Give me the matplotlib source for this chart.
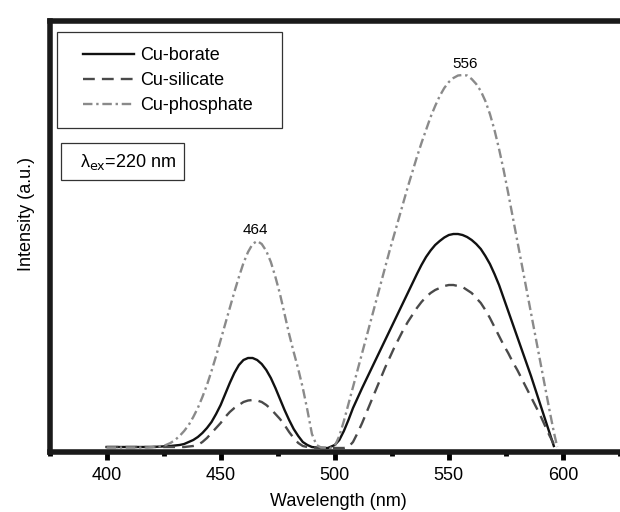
import matplotlib.pyplot as plt
from matplotlib.patches import Rectangle

# (nm, intensywnosc w j.u.)
borate_x = [400, 412, 420, 424, 428, 432, 434, 436, 438, 440, 442, 444, 446, 448, 450, 452, 454, 456, 458,
            460, 462, 464, 466, 468, 470, 472, 474, 476, 478, 480, 482, 484, 486, 488, 490, 492, 494, 497,
            500, 502, 504, 506, 508, 510, 512, 514, 516, 518, 520, 522, 524, 526, 528, 530, 532, 534,
            536, 538, 540, 542, 544, 546, 548, 550, 552, 554, 556, 558, 560, 562, 564, 566, 568, 570, 572,
            574, 576, 578, 580, 582, 584, 586, 588, 590, 592, 594, 596]
borate_y = [1, 1, 1, 1.5, 2, 3, 4, 6, 8, 11, 15, 20, 26, 34, 43, 54, 65, 75, 83,
            88, 90, 90, 88, 84, 78, 70, 60, 49, 38, 28, 19, 12, 6, 3, 1, 0.5, 0, 0,
            3, 8, 17, 28, 40, 50, 60, 69.5, 79, 88.5, 98, 107.5, 117, 126.5, 136, 145.5, 155, 164.5,
            174, 183, 191, 197.5, 203, 207, 210.5, 213, 214, 214, 213, 211, 208, 204, 199, 192, 184, 174, 163,
            150, 137, 124, 111, 98, 85, 72, 58, 44, 30, 16, 2]

silicate_x = [400, 420, 434, 436, 438, 440, 442, 444, 446, 448, 450, 452, 454, 456, 458, 460, 462, 464, 466,
              468, 470, 472, 474, 476, 478, 480, 482, 484, 486, 488, 490, 496, 504, 506, 508, 510, 512, 514,
              516, 518, 520, 522, 524, 526, 528, 530, 532, 534, 536, 538, 540, 542, 544, 546, 548, 550, 552,
              554, 556, 558, 560, 562, 564, 566, 568, 570, 572, 574, 576, 578, 580, 582, 584, 586, 588, 590,
              592, 594, 596]
silicate_y = [1, 1, 1, 1.5, 2, 3, 6, 10, 15, 20, 25, 31, 36, 40, 43, 46, 47.5, 48, 47.5,
              46, 43, 39, 34, 29, 23, 16, 10, 5, 2, 1, 0.5, 0, 0, 1, 6, 15, 25, 36,
              47, 58, 69, 80, 90, 100, 109, 118, 126, 133, 140, 146, 151, 155, 158, 160, 162, 163, 163,
              162, 161, 158, 155, 150, 145, 138, 130, 121, 112, 103, 95, 86, 78, 69, 60, 51, 42, 33,
              23, 13, 4]

phosphate_x = [400, 418, 424, 426, 428, 430, 432, 434, 436, 438, 440, 442, 444, 446, 448, 450, 452, 454, 456,
               458, 460, 462, 464, 466, 468, 470, 472, 474, 476, 478, 480, 482, 484, 486, 488, 490, 492, 494,
               498, 500, 502, 504, 506, 508, 510, 512, 514, 516, 518, 520, 522, 524, 526, 528, 530, 532, 534,
               536, 538, 540, 542, 544, 546, 548, 550, 552, 554, 556, 558, 560, 562, 564, 566, 568, 570, 572,
               574, 576, 578, 580, 582, 584, 586, 588, 590, 592, 594, 596, 597.5]
phosphate_y = [0.5, 0.5, 2, 3, 5, 8, 12, 17, 23, 31, 40, 51, 63, 77, 92, 108, 124, 140, 156,
               171, 185, 196, 204, 207, 204, 197, 186, 171, 154, 134, 114, 96, 79, 60, 38, 14, 3, 0.5,
               0, 2, 12, 27, 44, 61, 78, 95, 112, 129, 146, 163, 180, 197, 213, 229, 245, 261, 276,
               291, 305, 318, 331, 342, 352, 360, 366, 370, 372.5, 373, 372.5, 369, 364, 357, 347, 334, 318, 299,
               278, 255, 231, 207, 183, 159, 135, 111, 87, 63, 39, 16, 1]

labels = ["Cu-borate", "Cu-silicate", "Cu-phosphate"]
peaks = [464, 556]
peak_heights = [207, 373]
xticks = [400, 450, 500, 550, 600]

plt.rcParams['font.family'] = ['Liberation Sans', 'DejaVu Sans']

fig = plt.figure(figsize=(6.2, 5.12), dpi=100)
ax = fig.add_axes([49.5 / 620, 60 / 512, 1 - 49.5 / 620, 431 / 512])

ax.plot(borate_x, borate_y, color="#111111", lw=1.7, label=labels[0])
ax.plot(silicate_x, silicate_y, color="#4a4a4a", lw=1.7, linestyle=(0, (5, 3)), label=labels[1])
ax.plot(phosphate_x, phosphate_y, color="#8a8a8a", lw=1.7, linestyle=(0, (4, 1.6, 1, 1.6)), label=labels[2])

# podpisy pikow
for p, h in zip(peaks, peak_heights):
    ax.text(p + 1, h + 11, str(p), ha="center", va="center", fontsize=11)

ax.set_xlim(375, 620.3)
ax.set_ylim(-4, 427)
ax.set_xticks(xticks)
ax.set_xticks([375, 425, 475, 525, 575, 625], minor=True)
ax.set_yticks([])
ax.tick_params(axis="x", which="major", direction="out", length=6, width=3.5, labelsize=13, pad=5)
ax.tick_params(axis="x", which="minor", direction="out", length=3, width=3.5)
for s in ["left", "bottom", "top"]:
    ax.spines[s].set_linewidth(4)
    ax.spines[s].set_color("#1a1a1a")
ax.spines["right"].set_visible(False)

ax.set_xlabel("Wavelength (nm)", fontsize=13)
ax.set_ylabel("Intensity (a.u.)", fontsize=13)
ax.xaxis.set_label_coords((338 - 49.5) / 570.5, -(493 - 452) / 431)
ax.yaxis.set_label_coords(-(49.5 - 35) / 570.5, (452 - 214) / 431)

# legenda bez ramki + osobny prostokat
ax.legend(loc="upper left", bbox_to_anchor=(83 / 620, 1 - 47 / 512), bbox_transform=fig.transFigure,
          frameon=False, fontsize=13, handlelength=2.85, handletextpad=0.3, labelspacing=0.45,
          borderpad=0, borderaxespad=0)
fig.add_artist(Rectangle((57 / 620, 1 - 128 / 512), 225 / 620, 96 / 512, transform=fig.transFigure,
                         fill=False, edgecolor="#333333", lw=0.9))

fig.text(80 / 620, 1 - 162 / 512, "λ$_{\\mathrm{ex}}$=220 nm", fontsize=13, ha="left", va="center")
fig.add_artist(Rectangle((61 / 620, 1 - 180 / 512), 123 / 620, 37 / 512, transform=fig.transFigure,
                         fill=False, edgecolor="#333333", lw=0.9))

fig.savefig("out.png", dpi=100)
